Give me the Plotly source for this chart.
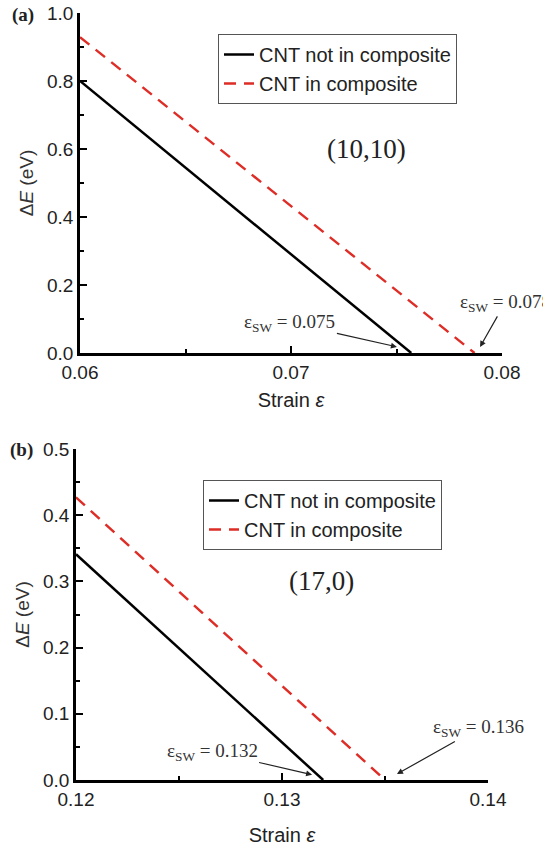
import plotly.graph_objects as go

# Panel (a): (10,10) CNT
strain_a = [0.06, 0.0757]
dE_a_not = [0.80, 0.0]
strain_a_in = [0.06, 0.0787]
dE_a_in = [0.929, 0.0]

# Panel (b): (17,0) CNT
strain_b = [0.12, 0.1320]
dE_b_not = [0.341, 0.0]
strain_b_in = [0.12, 0.1350]
dE_b_in = [0.427, 0.0]

names = ["CNT not in composite", "CNT in composite"]
RED = "rgb(222,45,38)"
SANS = "Liberation Sans, Arial, sans-serif"
SERIF = "Liberation Serif, Times New Roman, serif"

fig = go.Figure()
fig.add_trace(go.Scatter(x=strain_a, y=dE_a_not, mode="lines", name=names[0],
                         line=dict(color="black", width=2.5), xaxis="x", yaxis="y", legend="legend"))
fig.add_trace(go.Scatter(x=strain_a_in, y=dE_a_in, mode="lines", name=names[1],
                         line=dict(color=RED, width=2.5, dash="12px,8px"), xaxis="x", yaxis="y", legend="legend"))
fig.add_trace(go.Scatter(x=strain_b, y=dE_b_not, mode="lines", name=names[0],
                         line=dict(color="black", width=2.5), xaxis="x2", yaxis="y2", legend="legend2"))
fig.add_trace(go.Scatter(x=strain_b_in, y=dE_b_in, mode="lines", name=names[1],
                         line=dict(color=RED, width=2.5, dash="12px,8px"), xaxis="x2", yaxis="y2", legend="legend2"))

W, H = 543, 846
def px(x): return x / W
def py(y): return 1 - y / H

axis_common = dict(showline=True, linewidth=2.5, linecolor="black", ticks="inside",
                   ticklen=7, tickwidth=2, tickcolor="black", showgrid=False, zeroline=False,
                   mirror=False, automargin=False,
                   tickfont=dict(family=SANS, size=19, color="#222"))

xt = dict(family=SANS, size=20, color="#222")
yt = dict(family=SANS, size=19, color="#333")

fig.update_layout(
    width=W, height=H, margin=dict(l=0, r=0, t=0, b=0),
    paper_bgcolor="white", plot_bgcolor="white",
    xaxis=dict(domain=[px(80), px(502)], range=[0.06, 0.08], dtick=0.01, tickformat=".2f",
               anchor="y", title=dict(text="Strain <i>ε</i>", standoff=12, font=xt),
               minor=dict(ticks="inside", ticklen=4, tickwidth=2, dtick=0.005, tickcolor="black"),
               **axis_common),
    yaxis=dict(domain=[py(353), py(13)], range=[0, 1.0], dtick=0.2, tickformat=".1f",
               anchor="x", title=dict(text="Δ<i>E</i> (eV)", standoff=9, font=yt),
               minor=dict(ticks="inside", ticklen=4, tickwidth=2, dtick=0.1, tickcolor="black"),
               **axis_common),
    xaxis2=dict(domain=[px(76), px(488)], range=[0.12, 0.14], dtick=0.01, tickformat=".2f",
                anchor="y2", title=dict(text="Strain <i>ε</i>", standoff=30, font=xt),
                minor=dict(ticks="inside", ticklen=4, tickwidth=2, dtick=0.005, tickcolor="black"),
                **axis_common),
    yaxis2=dict(domain=[py(780), py(449)], range=[0, 0.5], dtick=0.1, tickformat=".1f",
                anchor="x2", title=dict(text="Δ<i>E</i> (eV)", standoff=9, font=yt),
                minor=dict(ticks="inside", ticklen=4, tickwidth=2, dtick=0.05, tickcolor="black"),
                **axis_common),
    legend=dict(x=px(218), y=py(34), xanchor="left", yanchor="top",
                bordercolor="#555", borderwidth=1, bgcolor="white",
                font=dict(family=SANS, size=20, color="#222"), tracegroupgap=0),
    legend2=dict(x=px(203), y=py(480), xanchor="left", yanchor="top",
                 bordercolor="#555", borderwidth=1, bgcolor="white",
                 font=dict(family=SANS, size=20, color="#222"), tracegroupgap=0),
    showlegend=True,
)

ann_font = dict(family=SERIF, size=19, color="#333")
annotations = [
    # panel labels
    dict(text="<b>(a)</b>", x=px(23), y=py(15), xref="paper", yref="paper", showarrow=False,
         xanchor="center", yanchor="middle", font=dict(family=SERIF, size=19, color="#222")),
    dict(text="<b>(b)</b>", x=px(21), y=py(450), xref="paper", yref="paper", showarrow=False,
         xanchor="center", yanchor="middle", font=dict(family=SERIF, size=19, color="#222")),
    # chirality labels
    dict(text="(10,10)", x=0.0736, y=0.6, xref="x", yref="y", showarrow=False,
         font=dict(family=SERIF, size=27, color="#222")),
    dict(text="(17,0)", x=0.1319, y=0.3, xref="x2", yref="y2", showarrow=False,
         font=dict(family=SERIF, size=27, color="#222")),
    # SW strain labels with arrows
    dict(text="ε<sub>SW</sub> = 0.075", x=0.07502, y=0.018, xref="x", yref="y",
         ax=-107, ay=-24, showarrow=True, arrowhead=2, arrowsize=1, arrowwidth=1.2,
         arrowcolor="#222", font=ann_font),
    dict(text="ε<sub>SW</sub> = 0.078", x=0.07896, y=0.018, xref="x", yref="y",
         ax=25, ay=-44, showarrow=True, arrowhead=2, arrowsize=1, arrowwidth=1.2,
         arrowcolor="#222", font=ann_font),
    dict(text="ε<sub>SW</sub> = 0.132", x=0.13146, y=0.008, xref="x2", yref="y2",
         ax=-100, ay=-23, showarrow=True, arrowhead=2, arrowsize=1, arrowwidth=1.2,
         arrowcolor="#222", font=ann_font),
    dict(text="ε<sub>SW</sub> = 0.136", x=0.13558, y=0.009, xref="x2", yref="y2",
         ax=82, ay=-46, showarrow=True, arrowhead=2, arrowsize=1, arrowwidth=1.2,
         arrowcolor="#222", font=ann_font),
]
fig.update_layout(annotations=annotations)

fig.write_html("out.html")
